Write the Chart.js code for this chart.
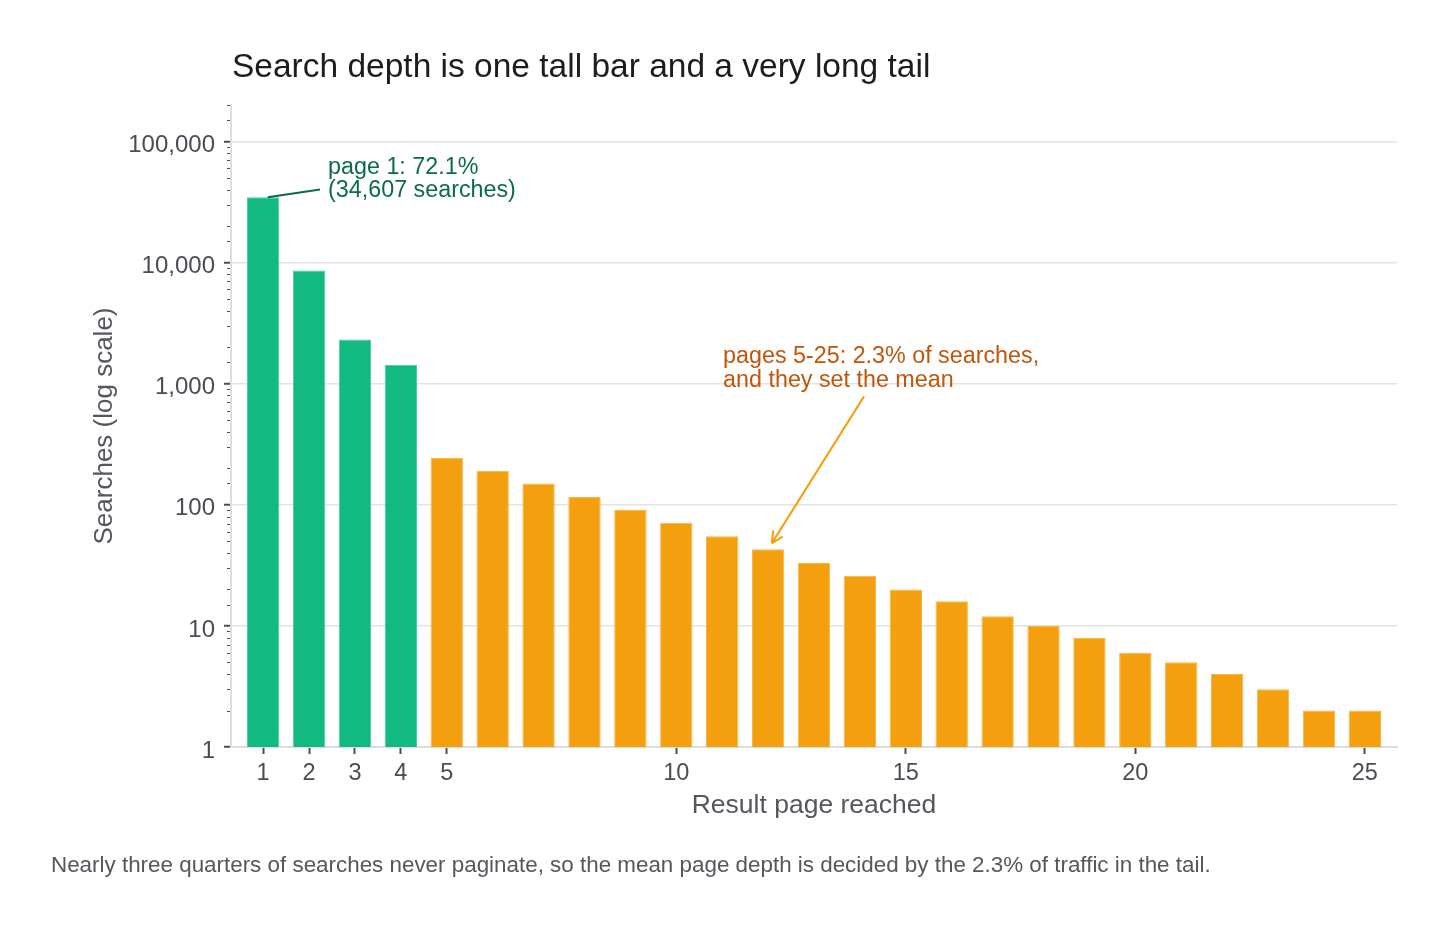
<!DOCTYPE html>
<html>
<head>
<meta charset="utf-8">
<title>Search depth</title>
<script src="https://cdn.jsdelivr.net/npm/chart.js@4.4.1/dist/chart.umd.min.js"></script>
<style>
  html, body { margin: 0; background: #fff; }
  #wrap { position: relative; width: 1448px; height: 926px; }
</style>
</head>
<body>
<div id="wrap"><canvas id="depthChart"></canvas></div>
<script>
const pages = [1, 2, 3, 4, 5, 6, 7, 8, 9, 10, 11, 12, 13, 14, 15, 16, 17, 18, 19, 20, 21, 22, 23, 24, 25];
const searches = [34607, 8590, 2311, 1435, 244, 191, 150, 116, 91, 71, 55, 43, 33, 26, 20, 16, 12, 10, 8, 6, 5, 4, 3, 2, 2];
const xTicks = [1, 2, 3, 4, 5, 10, 15, 20, 25];
const headPages = 4;

const chartTitle = 'Search depth is one tall bar and a very long tail';
const caption = 'Nearly three quarters of searches never paginate, so the mean page depth is decided by the 2.3% of traffic in the tail.';
const headNote = ['page 1: 72.1%', '(34,607 searches)'];
const tailNote = ['pages 5-25: 2.3% of searches,', 'and they set the mean'];

const FONT = '"Liberation Sans", Arial, Helvetica, sans-serif';
const GREEN = '#12b981';
const ORANGE = '#f49f0d';
const INK = '#4b4d55';

Chart.defaults.font.family = FONT;

const isPow10 = v => v > 0 && Math.abs(Math.log10(v) - Math.round(Math.log10(v))) < 1e-9;

// title, caption, minor log ticks and the two call-outs
const notes = {
  id: 'notes',
  afterDraw(chart) {
    const { ctx, chartArea, scales: { x, y } } = chart;
    ctx.save();

    ctx.strokeStyle = INK;
    ctx.lineWidth = 1;
    y.ticks.forEach(t => {
      if (isPow10(t.value)) return;
      const py = Math.round(y.getPixelForValue(t.value)) + 0.5;
      ctx.beginPath();
      ctx.moveTo(chartArea.left - 4, py);
      ctx.lineTo(chartArea.left - 1, py);
      ctx.stroke();
    });

    ctx.textBaseline = 'alphabetic';
    ctx.textAlign = 'left';
    ctx.fillStyle = '#1d1d1f';
    ctx.font = '33.5px ' + FONT;
    ctx.fillText(chartTitle, chartArea.left + 1, 77);

    ctx.fillStyle = '#55575e';
    ctx.font = '22.4px ' + FONT;
    ctx.fillText(caption, 51, 872);

    // page 1 call-out
    ctx.strokeStyle = '#0b6b4c';
    ctx.lineWidth = 2;
    ctx.beginPath();
    ctx.moveTo(x.getPixelForValue(1.1), y.getPixelForValue(34607));
    ctx.lineTo(x.getPixelForValue(2.24), y.getPixelForValue(40100));
    ctx.stroke();
    ctx.fillStyle = '#0b6b4c';
    ctx.font = '23.3px ' + FONT;
    const hx = x.getPixelForValue(2.415), hy = y.getPixelForValue(54000);
    headNote.forEach((line, i) => ctx.fillText(line, hx, hy + i * 23.5));

    // tail call-out with arrow
    ctx.fillStyle = '#c0560c';
    const tx = x.getPixelForValue(11.02), ty = y.getPixelForValue(1480);
    tailNote.forEach((line, i) => ctx.fillText(line, tx, ty + i * 23.5));

    const ax0 = x.getPixelForValue(14.09), ay0 = y.getPixelForValue(785);
    const ax1 = x.getPixelForValue(12.08), ay1 = y.getPixelForValue(48);
    ctx.strokeStyle = ORANGE;
    ctx.lineWidth = 2;
    ctx.beginPath();
    ctx.moveTo(ax0, ay0);
    ctx.lineTo(ax1, ay1);
    const ang = Math.atan2(ay1 - ay0, ax1 - ax0);
    [0.45, -0.45].forEach(d => {
      ctx.moveTo(ax1, ay1);
      ctx.lineTo(ax1 - 13 * Math.cos(ang + d), ay1 - 13 * Math.sin(ang + d));
    });
    ctx.stroke();

    ctx.restore();
  }
};

new Chart(
  document.getElementById('depthChart'),
  {
    type: 'bar',
    data: {
      datasets: [{
        label: 'Searches',
        data: pages.map((p, i) => ({ x: p, y: searches[i] })),
        backgroundColor: pages.map(p => p <= headPages ? GREEN : ORANGE),
        borderColor: pages.map(p => p <= headPages ? '#46cc9c' : '#f7b443'),
        borderWidth: 1,
        categoryPercentage: 1,
        barPercentage: 0.705
      }]
    },
    options: {
      responsive: true,
      maintainAspectRatio: false,
      animation: false,
      layout: { padding: { top: 105, right: 51, bottom: 0, left: 0 } },
      plugins: {
        legend: { display: false },
        tooltip: { enabled: false }
      },
      scales: {
        x: {
          type: 'linear',
          min: 0.3,
          max: 25.7,
          offset: false,
          afterBuildTicks: s => { s.ticks = xTicks.map(v => ({ value: v })); },
          afterFit: s => { s.height = 179; },
          border: { color: '#dddddd', width: 2 },
          grid: { offset: false, drawOnChartArea: false, drawTicks: true, tickLength: 7, tickColor: INK, tickWidth: 2 },
          ticks: { autoSkip: false, maxRotation: 0, padding: 5, color: INK, font: { size: 23.5 }, callback: v => String(v) },
          title: { display: true, text: 'Result page reached', color: '#55575e', font: { size: 26.5 }, padding: { top: 0, bottom: 104 } }
        },
        y: {
          type: 'logarithmic',
          min: 1,
          max: 200000,
          afterFit: s => { s.width = 231; },
          border: { color: '#dddddd', width: 2 },
          grid: {
            color: c => c.tick && isPow10(c.tick.value) ? '#e3e3e3' : 'rgba(0,0,0,0)',
            lineWidth: 1.5,
            tickLength: 7,
            tickWidth: 2,
            tickColor: c => c.tick && isPow10(c.tick.value) ? INK : 'rgba(0,0,0,0)'
          },
          ticks: {
            autoSkip: false,
            padding: 9,
            labelOffset: 4,
            color: INK,
            font: { size: 24 },
            callback: v => isPow10(v) ? Number(v).toLocaleString('en-US') : ''
          },
          title: { display: true, text: 'Searches (log scale)', color: '#55575e', font: { size: 26 }, padding: { top: 89, bottom: 0 } }
        }
      }
    },
    plugins: [notes]
  }
);
</script>
</body>
</html>
